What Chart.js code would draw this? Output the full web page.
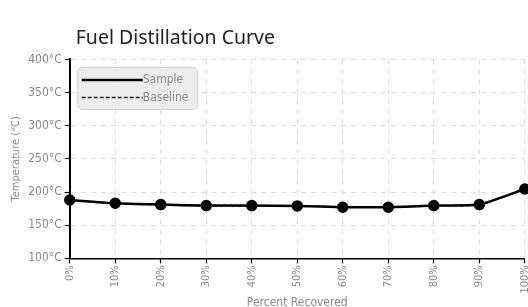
<!DOCTYPE html>
<html>
<head>
<meta charset="utf-8">
<script src="https://cdn.jsdelivr.net/npm/chart.js@4.4.0/dist/chart.umd.min.js"></script>
<style>
  html, body { margin: 0; padding: 0; background: #fff; overflow: hidden; }
  #wrap { width: 540px; height: 307px; }
</style>
</head>
<body>
<div id="wrap"><canvas id="chart"></canvas></div>
<script>
// Percent recovered (x axis)
const recovered = ["0%", "10%", "20%", "30%", "40%", "50%", "60%", "70%", "80%", "90%", "100%"];
// Temperatures in degC
const sampleTemps = [188, 183, 181, 179.5, 179.5, 179, 177, 177, 179.5, 181, 204.5];
const baselineTemps = [187.5, 182.5, 180.5, 179, 179, 179, 177.5, 177, 179, 180.5, 204];
const yTicks = { min: 100, max: 400, step: 50 };

const narrow = "'Liberation Sans Narrow', 'DejaVu Sans Condensed', 'DejaVu Sans', sans-serif";

// Legend box drawn inside the plot area, top left
const insideLegend = {
    id: "insideLegend",
    afterLayout(chart) {
        // nudge the title a little right of the plot edge
        chart.titleBlock.left += 6;
        chart.titleBlock.right += 6;
    },
    afterDatasetsDraw(chart) {
        const ctx = chart.ctx;
        const area = chart.chartArea;
        const x = area.left + 8, y = area.top + 8, w = 120, h = 42;
        ctx.save();
        ctx.beginPath();
        ctx.roundRect(x, y, w, h, 5);
        ctx.fillStyle = "rgba(235,235,235,0.9)";
        ctx.fill();
        ctx.strokeStyle = "#cfcfcf";
        ctx.lineWidth = 1;
        ctx.stroke();
        ctx.font = "12px " + narrow;
        ctx.textBaseline = "middle";
        chart.data.datasets.forEach((ds, i) => {
            const ly = y + 12.5 + i * 17.5;
            ctx.beginPath();
            ctx.setLineDash(ds.borderDash || []);
            ctx.lineWidth = ds.borderWidth;
            ctx.strokeStyle = ds.borderColor;
            ctx.moveTo(x + 4, ly);
            ctx.lineTo(x + 65, ly);
            ctx.stroke();
            ctx.setLineDash([]);
            ctx.fillStyle = "#888";
            ctx.fillText(ds.label, x + 65, ly);
        });
        ctx.restore();
    }
};

const ctx = document.getElementById("chart").getContext("2d");
new Chart(ctx, {
    type: "line",
    data: {
        labels: recovered,
        datasets: [
            {
                label: "Sample",
                data: sampleTemps,
                borderColor: "#000",
                backgroundColor: "#000",
                borderWidth: 2.5,
                pointRadius: 4.5,
                pointBackgroundColor: "#000",
                tension: 0.15,
                fill: false,
            },
            {
                label: "Baseline",
                data: baselineTemps,
                borderColor: "#222",
                borderWidth: 1.5,
                borderDash: [4, 2],
                pointRadius: 0,
                tension: 0.15,
                fill: false,
            },
        ],
    },
    options: {
        responsive: true,
        maintainAspectRatio: false,
        animation: false,
        layout: { padding: { right: 6, left: 10, bottom: -3 } },
        scales: {
            x: {
                offset: false,
                title: {
                    display: true,
                    text: "Percent Recovered",
                    color: "#888",
                    font: { family: narrow, size: 12 },
                    padding: { top: 0, bottom: 0 },
                },
                ticks: {
                    color: "#888",
                    font: { family: narrow, size: 11 },
                    minRotation: 90,
                    maxRotation: 90,
                    padding: 2,
                },
                grid: {
                    color: "#dedede",
                    tickColor: "#000",
                    tickLength: 5,
                    tickWidth: 1.2,
                },
                border: { color: "#000", width: 1.5, dash: [5, 5] },
            },
            y: {
                min: yTicks.min,
                max: yTicks.max,
                title: {
                    display: true,
                    text: "Temperature (°C)",
                    color: "#888",
                    font: { family: narrow, size: 11 },
                    padding: { top: 0, bottom: 2 },
                },
                ticks: {
                    stepSize: yTicks.step,
                    color: "#888",
                    font: { family: narrow, size: 12 },
                    padding: 3,
                    callback: (v) => v + "°C",
                },
                grid: {
                    color: "#dedede",
                    tickColor: "#000",
                    tickLength: 5,
                    tickWidth: 1.2,
                },
                border: { color: "#000", width: 2, dash: [5, 5] },
            },
        },
        plugins: {
            legend: { display: false },
            tooltip: { enabled: false },
            title: {
                display: true,
                text: "Fuel Distillation Curve",
                align: "start",
                fullSize: false,
                color: "#222",
                font: { family: "'Noto Sans', sans-serif", size: 19.5, weight: "normal" },
                padding: { top: 27, bottom: 9 },
            },
        },
    },
    plugins: [insideLegend],
});
</script>
</body>
</html>
